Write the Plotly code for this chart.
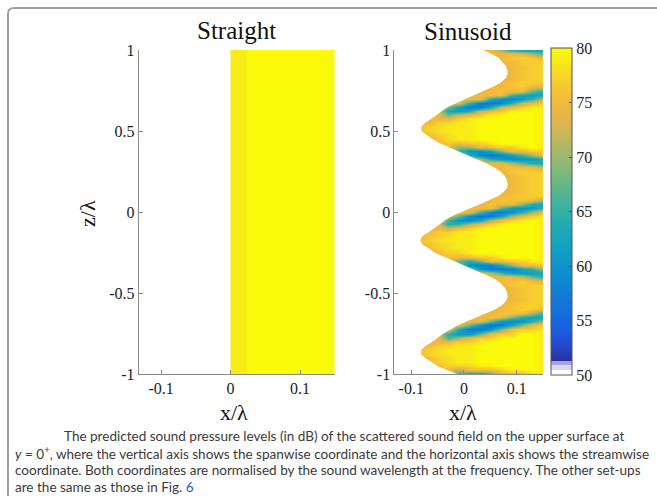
import plotly.graph_objects as go

W, H = 657, 496

# ---------------- data ----------------
TITLES = ["Straight", "Sinusoid"]
X_LABEL = "x/λ"
Z_LABEL = "z/λ"
X_TICKS = [-0.1, 0, 0.1]
X_TICKTEXT = ["-0.1", "0", "0.1"]
Z_TICKS = [-1, -0.5, 0, 0.5, 1]
Z_TICKTEXT = ["-1", "-0.5", "0", "0.5", "1"]
CB_TICKS = [50, 55, 60, 65, 70, 75, 80]
CB_TICKTEXT = ["50", "55", "60", "65", "70", "75", "80"]
SPL_MIN, SPL_MAX = 50, 80

# Straight edge: SPL field (dB) on bins in x, one bin in z
STRAIGHT_X_EDGES = [0.0, 0.023, 0.15]
STRAIGHT_Z_EDGES = [-1.0, 1.0]
STRAIGHT_SPL = [[79, 80]]

# Sinusoidal edge: SPL field (dB) sampled on a grid
SIN_X = [-0.09, -0.07, -0.05, -0.03, -0.01, 0.01, 0.03, 0.05, 0.07, 0.09, 0.11, 0.13, 0.15]
SIN_Z = [1.0, 0.975, 0.95, 0.925, 0.9, 0.875, 0.85, 0.825, 0.8, 0.775,
         0.75, 0.725, 0.7, 0.675, 0.65, 0.625, 0.6, 0.575, 0.55, 0.525,
         0.5, 0.475, 0.45, 0.425, 0.4, 0.375, 0.35, 0.325, 0.3, 0.275,
         0.25, 0.225, 0.2, 0.175, 0.15, 0.125, 0.1, 0.075, 0.05, 0.025,
         0.0, -0.025, -0.05, -0.075, -0.1, -0.125, -0.15, -0.175, -0.2, -0.225,
         -0.25, -0.275, -0.3, -0.325, -0.35, -0.375, -0.4, -0.425, -0.45, -0.475,
         -0.5, -0.525, -0.55, -0.575, -0.6, -0.625, -0.65, -0.675, -0.7, -0.725,
         -0.75, -0.775, -0.8, -0.825, -0.85, -0.875, -0.9, -0.925, -0.95, -0.975,
         -1.0]
# leading-edge position x/λ for each SIN_Z row
SIN_LE_X = [0.036, 0.053, 0.066, 0.074, 0.080, 0.082, 0.083, 0.079, 0.070, 0.056,
            0.039, 0.021, 0.002, -0.015, -0.030, -0.041, -0.051, -0.062, -0.074, -0.081,
            -0.081, -0.071, -0.060, -0.046, -0.029, -0.010, 0.006, 0.024, 0.043, 0.058,
            0.069, 0.077, 0.081, 0.083, 0.082, 0.076, 0.066, 0.050, 0.032, 0.013,
            -0.005, -0.022, -0.035, -0.045, -0.055, -0.067, -0.079, -0.083, -0.079, -0.066,
            -0.056, -0.040, -0.021, -0.003, 0.013, 0.032, 0.050, 0.064, 0.073, 0.079,
            0.082, 0.083, 0.080, 0.072, 0.060, 0.043, 0.024, 0.006, -0.012, -0.027,
            -0.039, -0.049, -0.059, -0.072, -0.081, -0.082, -0.074, -0.062, -0.050, -0.032,
            -0.014]
SIN_SPL = [
    [74,74,74,74,74,74,74,75,70,64,62,62,62],
    [74,74,74,74,74,74,74,75,75,75,75,71,67],
    [74,74,74,74,74,74,74,74,75,76,77,77,75],
    [74,74,74,74,74,74,74,74,75,75,77,77,77],
    [74,74,74,74,74,74,74,74,74,75,76,77,77],
    [74,74,74,74,74,74,74,74,74,75,76,77,77],
    [74,74,74,74,74,74,74,74,74,75,76,77,77],
    [74,74,74,74,74,74,74,74,74,75,76,77,77],
    [74,74,74,74,74,74,74,74,75,76,77,77,77],
    [74,74,74,74,74,74,74,75,75,76,77,75,75],
    [74,74,74,74,74,74,75,75,76,75,75,68,64],
    [74,74,74,74,74,74,75,75,75,66,62,61,63],
    [74,74,74,74,74,75,75,64,59,58,61,65,72],
    [74,74,74,74,75,65,58,56,58,64,72,75,77],
    [74,74,74,68,62,57,57,63,72,75,77,79,79],
    [74,74,74,63,61,64,72,75,77,79,80,80,79],
    [74,74,75,68,73,75,77,79,80,80,80,80,79],
    [74,75,75,75,77,79,80,80,80,80,80,80,79],
    [74,75,77,78,79,79,80,80,80,80,80,80,79],
    [75,77,78,79,79,79,80,80,80,80,80,80,79],
    [75,77,78,79,79,79,80,80,80,80,80,80,79],
    [74,75,77,78,79,79,80,80,80,80,80,80,79],
    [74,74,76,78,79,79,80,80,80,80,80,80,79],
    [74,74,75,77,75,77,77,79,80,80,80,80,79],
    [74,74,74,75,69,70,75,75,77,77,79,80,79],
    [74,74,74,74,66,60,60,63,69,75,75,77,77],
    [74,74,74,74,74,64,58,56,58,61,66,70,75],
    [74,74,74,74,74,74,71,64,61,59,60,61,64],
    [74,74,74,74,74,74,74,75,75,71,67,64,63],
    [74,74,74,74,74,74,74,74,75,76,75,75,72],
    [74,74,74,74,74,74,74,74,75,76,77,77,77],
    [74,74,74,74,74,74,74,74,74,75,76,77,77],
    [74,74,74,74,74,74,74,74,74,75,76,77,77],
    [74,74,74,74,74,74,74,74,74,75,76,77,77],
    [74,74,74,74,74,74,74,74,74,75,76,77,77],
    [74,74,74,74,74,74,74,74,74,75,76,77,77],
    [74,74,74,74,74,74,74,74,75,76,77,77,77],
    [74,74,74,74,74,74,74,75,76,76,76,75,70],
    [74,74,74,74,74,74,75,76,75,75,69,64,62],
    [74,74,74,74,74,75,75,75,67,61,60,61,65],
    [74,74,74,74,75,75,66,59,57,59,64,70,75],
    [74,74,74,74,68,60,56,57,62,70,75,77,79],
    [74,74,74,66,60,58,62,70,75,77,79,80,79],
    [74,74,75,64,65,71,75,77,79,80,80,80,79],
    [74,74,75,72,75,77,79,80,80,80,80,80,79],
    [74,75,77,77,79,79,80,80,80,80,80,80,79],
    [74,76,77,78,79,79,80,80,80,80,80,80,79],
    [75,77,78,79,79,79,80,80,80,80,80,80,79],
    [74,76,77,78,79,79,80,80,80,80,80,80,79],
    [74,75,77,78,79,79,80,80,80,80,80,80,79],
    [74,74,75,77,77,79,80,80,80,80,80,80,79],
    [74,74,74,76,75,75,77,77,79,80,80,80,79],
    [74,74,74,74,67,64,68,75,75,77,77,79,79],
    [74,74,74,74,70,59,57,58,63,69,75,75,77],
    [74,74,74,74,74,70,61,57,57,58,62,65,70],
    [74,74,74,74,74,74,75,72,66,62,61,61,62],
    [74,74,74,74,74,74,74,75,75,75,73,68,65],
    [74,74,74,74,74,74,74,74,75,76,77,75,75],
    [74,74,74,74,74,74,74,74,75,76,77,77,77],
    [74,74,74,74,74,74,74,74,74,75,76,77,77],
    [74,74,74,74,74,74,74,74,74,75,76,77,77],
    [74,74,74,74,74,74,74,74,74,75,76,77,77],
    [74,74,74,74,74,74,74,74,74,75,76,77,77],
    [74,74,74,74,74,74,74,74,75,76,77,77,77],
    [74,74,74,74,74,74,74,74,75,76,77,77,75],
    [74,74,74,74,74,74,74,75,76,76,75,71,65],
    [74,74,74,74,74,74,75,76,75,69,64,62,62],
    [74,74,74,74,74,75,75,68,61,59,60,64,70],
    [74,74,74,74,75,68,60,56,57,62,69,75,77],
    [74,74,74,75,64,57,56,60,68,75,77,77,79],
    [74,74,74,64,61,61,68,75,77,77,80,80,79],
    [74,74,75,66,70,75,77,77,80,80,80,80,79],
    [74,74,75,75,77,77,79,80,80,80,80,80,79],
    [74,75,77,78,79,79,80,80,80,80,80,80,79],
    [75,77,78,79,79,79,80,80,80,80,80,80,79],
    [75,77,78,79,79,79,80,80,80,80,80,80,79],
    [74,75,77,78,79,79,80,80,80,80,80,80,79],
    [74,75,77,78,79,79,80,80,80,80,80,80,79],
    [74,74,75,77,77,77,79,79,80,80,80,80,79],
    [74,74,74,75,71,75,75,75,77,79,79,80,79],
    [74,74,74,74,66,61,62,66,73,75,75,77,79],
]

CAPTION = [
    "The predicted sound pressure levels (in dB) of the scattered sound field on the upper surface at",
    "<i>y</i> = 0<sup>+</sup>, where the vertical axis shows the spanwise coordinate and the horizontal axis shows the streamwise",
    "coordinate. Both coordinates are normalised by the sound wavelength at the frequency. The other set-ups",
    "are the same as those in Fig. <span style='color:#2a62c0'>6</span>",
]

# ---------------- styling ----------------
X_RANGE = [-0.132, 0.15]
Z_RANGE = [-1, 1]
SERIF = "Liberation Serif, Times New Roman, serif"
AX_GRAY = "#8a8a8a"
TICK_SIZE = 16

def px_x(p):
    return p / W

def px_y(p):
    return 1 - p / H

# colour map (value in dB -> colour), parula-like with pale lowest entries
cmap_stops = [
    (50.0, "#ffffff"), (50.45, "#ffffff"), (50.45, "#d8d8f0"), (50.9, "#d8d8f0"),
    (50.9, "#a6a6de"), (51.3, "#a6a6de"), (51.3, "#2b2f96"), (52.5, "#2446c6"),
    (54.0, "#1b5de0"), (56.0, "#1570dc"), (58.0, "#1082d4"), (60.0, "#0d94cc"),
    (62.0, "#14a2c0"), (64.0, "#26acae"), (66.0, "#46b39a"), (68.0, "#70b882"),
    (70.0, "#9ab96e"), (72.0, "#c6b75a"), (73.5, "#e3b64a"), (75.0, "#f2b83c"),
    (76.5, "#f7c832"), (78.0, "#f6de22"), (80.0, "#fbfa0a"),
]
colorscale = [[(v - SPL_MIN) / (SPL_MAX - SPL_MIN), c] for v, c in cmap_stops]

fig = go.Figure()

fig.add_trace(go.Heatmap(
    x=STRAIGHT_X_EDGES, y=STRAIGHT_Z_EDGES, z=STRAIGHT_SPL,
    coloraxis="coloraxis", xaxis="x", yaxis="y", hoverinfo="skip"))

fig.add_trace(go.Heatmap(
    x=SIN_X, y=SIN_Z, z=SIN_SPL, zsmooth="best",
    coloraxis="coloraxis", xaxis="x2", yaxis="y2", hoverinfo="skip"))

# region upstream of the serrated leading edge (no surface)
mask_x = list(SIN_LE_X) + [X_RANGE[0] - 0.01, X_RANGE[0] - 0.01]
mask_z = list(SIN_Z) + [SIN_Z[-1], SIN_Z[0]]
fig.add_trace(go.Scatter(
    x=mask_x, y=mask_z, mode="lines", fill="toself", fillcolor="white",
    line=dict(width=0, color="white"), xaxis="x2", yaxis="y2",
    hoverinfo="skip", showlegend=False))

ax_common = dict(showgrid=False, zeroline=False, showline=True, linecolor=AX_GRAY,
                 linewidth=1, ticks="inside", ticklen=4, tickcolor=AX_GRAY,
                 tickfont=dict(family=SERIF, size=TICK_SIZE, color="#222"), mirror=False)

y_dom = [px_y(374), px_y(50)]
fig.update_layout(
    width=W, height=H, margin=dict(l=0, r=0, t=0, b=0, pad=0, autoexpand=False),
    paper_bgcolor="white", plot_bgcolor="white", showlegend=False,
    xaxis=dict(domain=[px_x(138.8), px_x(334.8)], range=X_RANGE, anchor="y",
               tickvals=X_TICKS, ticktext=X_TICKTEXT, **ax_common),
    yaxis=dict(domain=y_dom, range=Z_RANGE, anchor="x",
               tickvals=Z_TICKS, ticktext=Z_TICKTEXT, **ax_common),
    xaxis2=dict(domain=[px_x(394.4), px_x(543.0)], range=X_RANGE, anchor="y2",
                tickvals=X_TICKS, ticktext=X_TICKTEXT, **ax_common),
    yaxis2=dict(domain=y_dom, range=Z_RANGE, anchor="x2",
                tickvals=Z_TICKS, ticktext=Z_TICKTEXT, **ax_common),
    coloraxis=dict(
        cmin=SPL_MIN, cmax=SPL_MAX, colorscale=colorscale,
        colorbar=dict(
            x=px_x(551), xanchor="left", y=px_y(211.5), yanchor="middle",
            thickness=21, thicknessmode="pixels", len=327, lenmode="pixels",
            xpad=0, ypad=0, outlinecolor="#555", outlinewidth=1,
            tickvals=CB_TICKS, ticktext=CB_TICKTEXT, ticks="inside", ticklen=3,
            tickcolor="#555", tickfont=dict(family=SERIF, size=TICK_SIZE, color="#222"),
        ),
    ),
)

def label(text, x, y, size, angle=0):
    return dict(text=text, x=px_x(x), y=px_y(y), xref="paper", yref="paper",
                xanchor="center", yanchor="middle", showarrow=False, textangle=angle,
                font=dict(family=SERIF, size=size, color="#111"))

ann = [
    label(TITLES[0], 236, 30, 25),
    label(TITLES[1], 468, 32, 25),
    label(X_LABEL, 234, 412, 22),
    label(X_LABEL, 463, 412, 22),
    label(Z_LABEL, 88, 214, 22, -90),
]

cap_x = [62, 13, 13, 13]
cap_y = [436, 453, 470, 487]
for t, cx, cy in zip(CAPTION, cap_x, cap_y):
    ann.append(dict(text=t, x=px_x(cx), y=px_y(cy), xref="paper", yref="paper",
                    xanchor="left", yanchor="middle", showarrow=False, align="left",
                    font=dict(family="Lato, Open Sans, sans-serif", size=13.54, color="#3a3a3a")))
fig.update_layout(annotations=ann)

# frame around the figure
fx, fy, r = 8, 8, 6
path = (f"M {px_x(fx)},{px_y(H + 2)} L {px_x(fx)},{px_y(fy + r)} "
        f"Q {px_x(fx)},{px_y(fy)} {px_x(fx + r)},{px_y(fy)} L {px_x(W + 2)},{px_y(fy)}")
fig.add_shape(type="path", path=path, xref="paper", yref="paper",
              line=dict(color="#a0a0a0", width=2))

fig.write_html("out.html", config={"displayModeBar": False},
               post_script="document.body.style.margin='0';")
